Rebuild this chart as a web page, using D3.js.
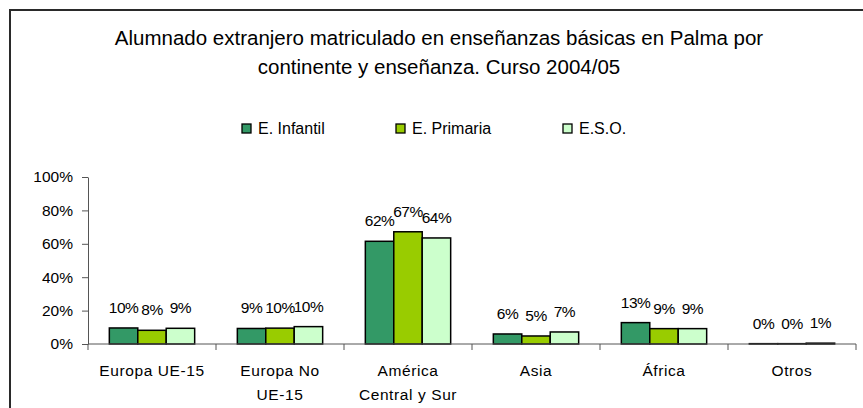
<!DOCTYPE html>
<html>
<head>
<meta charset="utf-8">
<script src="https://cdn.jsdelivr.net/npm/d3@7"></script>
<style>
body{margin:0;background:#fff;}
svg text{font-family:"Liberation Sans",Arial,sans-serif;fill:#000;}
</style>
</head>
<body>
<svg id="chart"></svg>
<script>
// data
var categories=["Europa UE-15","Europa No\nUE-15","América\nCentral y Sur","Asia","África","Otros"]
var series=["E. Infantil","E. Primaria","E.S.O."]
var infantil=[9.6,9.3,61.5,6.0,12.8,0.2]
var primaria=[8.2,9.5,67.2,4.8,9.2,0.2]
var eso=[9.4,10.4,63.5,7.2,9.2,0.5]
var yTicks=[0,20,40,60,80,100]
var colors=["#339966","#99cc00","#ccffcc"]

var screen={width:863,height:408}
var margins={left:88,right:7,top:177,bottom:64}
var graph={
    width:screen.width-margins.left-margins.right,
    height:screen.height-margins.top-margins.bottom
}

var svg=d3.select("#chart")
    .attr("width",screen.width)
    .attr("height",screen.height)

// chart frame
svg.append("rect")
    .attr("x",10).attr("y",10)
    .attr("width",870).attr("height",420)
    .attr("fill","none")
    .attr("stroke","#2a2a2a")
    .attr("stroke-width",2)

// title
var title=svg.append("text")
    .attr("text-anchor","middle")
    .style("font-size","20.5px")
title.append("tspan").attr("x",439).attr("y",45)
    .text("Alumnado extranjero matriculado en enseñanzas básicas en Palma por")
title.append("tspan").attr("x",439).attr("y",74)
    .text("continente y enseñanza. Curso 2004/05")

// legend
var legendX=[242,396,563]
var legend=svg.append("g").selectAll("g")
    .data(series)
    .enter()
    .append("g")
    .attr("transform",function(d,i){return "translate("+legendX[i]+",124)"})
legend.append("rect")
    .attr("width",9).attr("height",9)
    .attr("fill",function(d,i){return colors[i]})
    .attr("stroke","#000").attr("stroke-width",1.3)
legend.append("text")
    .attr("x",16).attr("y",10)
    .style("font-size","16px")
    .text(function(d){return d})

var target=svg.append("g")
    .attr("transform","translate("+margins.left+","+margins.top+")")

var xScale=d3.scaleBand()
    .domain(categories)
    .range([0,graph.width])
var barW=xScale.step()/4.5
var xSub=d3.scaleBand()
    .domain(series)
    .range([barW*0.75,xScale.step()-barW*0.75])
var yScale=d3.scaleLinear()
    .domain([0,100])
    .range([graph.height,0])

var rows=[]
var allSeries=[infantil,primaria,eso]
categories.forEach(function(c,ci){
    series.forEach(function(s,si){
        rows.push({cat:c,ser:s,val:allSeries[si][ci],color:colors[si]})
    })
})

// bars
target.selectAll("rect.bar")
    .data(rows)
    .enter()
    .append("rect")
    .attr("class","bar")
    .attr("x",function(d){return xScale(d.cat)+xSub(d.ser)})
    .attr("y",function(d){return yScale(d.val)})
    .attr("width",xSub.bandwidth())
    .attr("height",function(d){return graph.height-yScale(d.val)})
    .attr("fill",function(d){return d.color})
    .attr("stroke","#000")
    .attr("stroke-width",1.5)

// value labels
target.selectAll("text.val")
    .data(rows)
    .enter()
    .append("text")
    .attr("class","val")
    .attr("text-anchor","middle")
    .attr("x",function(d){return xScale(d.cat)+xSub(d.ser)+xSub.bandwidth()/2})
    .attr("y",function(d){return yScale(d.val)-15})
    .style("font-size","15.5px")
    .style("letter-spacing","-0.5px")
    .text(function(d){return Math.round(d.val)+"%"})

// y axis
var yAxis=d3.axisLeft(yScale)
    .tickValues(yTicks)
    .tickFormat(function(d){return d+"%"})
    .tickSize(6)
    .tickSizeOuter(0)
    .tickPadding(9)
var ya=target.append("g").call(yAxis)
ya.selectAll("text").style("font-size","15.5px").style("font-family","Liberation Sans,Arial,sans-serif")
ya.selectAll("line,path").attr("stroke","#555")

// x axis, ticks between categories
var xa=target.append("g")
    .attr("transform","translate(0,"+graph.height+")")
xa.append("line")
    .attr("x1",0).attr("x2",graph.width)
    .attr("stroke","#555")
var bounds=categories.map(function(c){return xScale(c)}).concat([graph.width])
xa.selectAll("line.tk")
    .data(bounds)
    .enter()
    .append("line")
    .attr("class","tk")
    .attr("x1",function(d){return d}).attr("x2",function(d){return d})
    .attr("y1",0).attr("y2",6)
    .attr("stroke","#555")
var catText=xa.selectAll("text")
    .data(categories)
    .enter()
    .append("text")
    .attr("text-anchor","middle")
    .style("font-size","15.5px")
    .style("letter-spacing","0.6px")
catText.each(function(c){
    var t=d3.select(this)
    c.split("\n").forEach(function(line,i){
        t.append("tspan")
            .attr("x",xScale(c)+xScale.bandwidth()/2)
            .attr("y",32+i*24)
            .text(line)
    })
})
</script>
</body>
</html>
